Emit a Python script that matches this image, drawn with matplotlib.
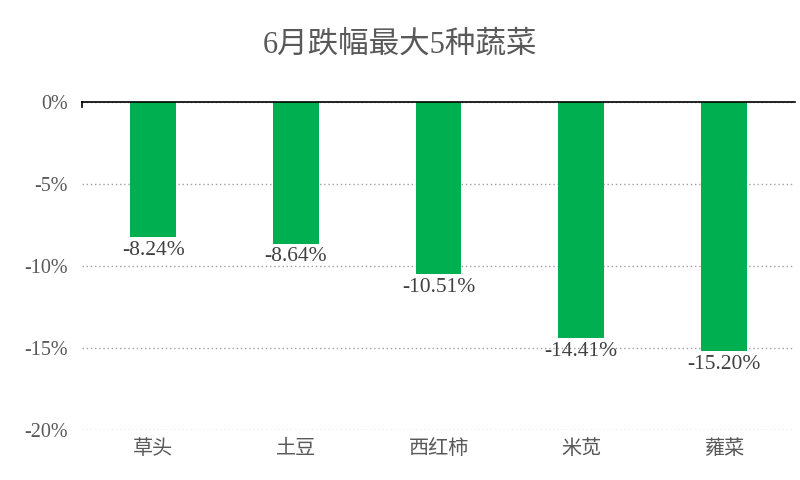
import matplotlib
matplotlib.use("Agg")
import matplotlib.pyplot as plt
from matplotlib.ticker import FuncFormatter, MultipleLocator

categories = ["草头", "土豆", "西红柿", "米苋", "蕹菜"]
values = [-8.24, -8.64, -10.51, -14.41, -15.20]
title = "6月跌幅最大5种蔬菜"

fam = ["Liberation Serif", "Noto Sans CJK SC", "DejaVu Sans"]
plt.rcParams["font.family"] = fam
txt = "#595959"

fig = plt.figure(figsize=(8, 4.8), dpi=100)
ax = fig.add_axes([0.1025, 0.104, 0.8915, 0.6835])

x = list(range(len(categories)))
bars = ax.bar(x, values, width=0.32, color="#00B050", zorder=3)

ax.set_xlim(-0.5, len(categories) - 0.5)
ax.set_ylim(-20, 0)
ax.yaxis.set_major_locator(MultipleLocator(5))
ax.yaxis.set_major_formatter(FuncFormatter(lambda v, p: f"{v:.0f}%" if v != 0 else "0%"))

for s in ["left", "right", "bottom"]:
    ax.spines[s].set_visible(False)
ax.spines["top"].set_visible(True)
ax.spines["top"].set_color("black")
ax.spines["top"].set_linewidth(1.2)
ax.spines["top"].set_zorder(4)

ax.grid(axis="y", linestyle=(0, (1, 2)), color="#a0a0a0", linewidth=1, zorder=1)
ax.tick_params(axis="both", length=0, colors=txt, labelsize=14.5)
ax.tick_params(axis="y", pad=10)
ax.tick_params(axis="x", pad=7)
ax.set_xticks(x)
ax.set_xticklabels(categories, fontsize=14.5, color=txt)

# small tick at left end of the zero line
ax.plot([0, 0], [1, 0.985], transform=ax.transAxes, color="black", lw=1.2, clip_on=False, zorder=5)

for xi, v in zip(x, values):
    ax.annotate(f"{v:.2f}%", (xi, v), xytext=(0, -2.5), textcoords="offset points",
                ha="center", va="top", fontsize=15.5, color="#404040")

fig.text(0.5, 0.905, title, ha="center", va="center", fontsize=22, color=txt)

fig.savefig("out.png", dpi=100)
